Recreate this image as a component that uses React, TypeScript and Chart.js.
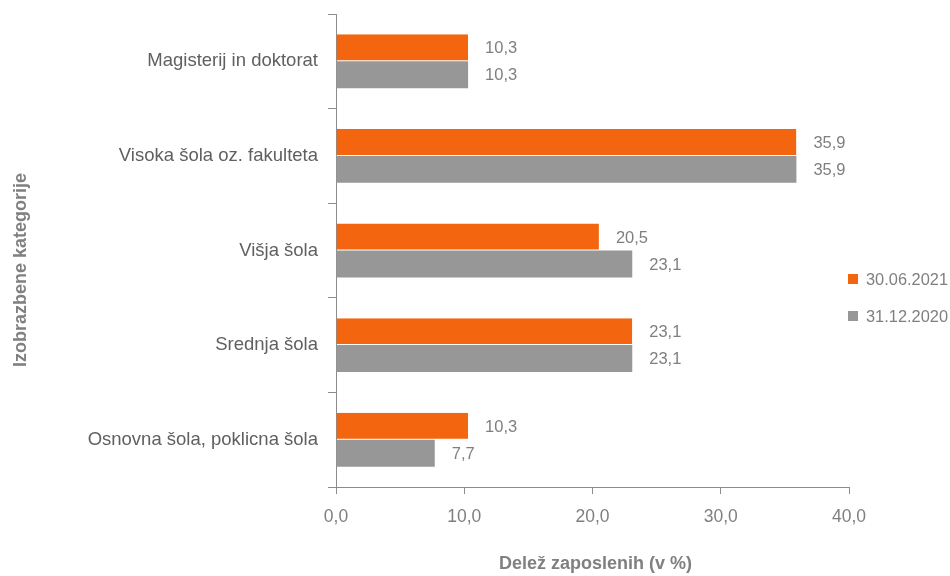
import React, { useEffect, useRef } from "react";
import { Chart, registerables } from "chart.js";

Chart.register(...registerables);

const categories = [
  "Magisterij in doktorat",
  "Visoka šola oz. fakulteta",
  "Višja šola",
  "Srednja šola",
  "Osnovna šola, poklicna šola",
];
const seriesNames = ["30.06.2021", "31.12.2020"];
const values2021 = [10.3, 35.9, 20.5, 23.1, 10.3];
const values2020 = [10.3, 35.9, 23.1, 23.1, 7.7];
const colors = ["#F4650F", "#979797"];
const xTitle = "Delež zaposlenih (v %)";
const yTitle = "Izobrazbene kategorije";

const FONT = "'Liberation Sans', Arial, sans-serif";
const fmt = (v: number) => v.toFixed(1).replace(".", ",");

const extrasPlugin = {
  id: "extras",
  afterDatasetsDraw(chart: any) {
    const ctx = chart.ctx;
    ctx.save();
    // data labels
    ctx.font = `16.5px ${FONT}`;
    ctx.fillStyle = "#7f7f7f";
    ctx.textAlign = "left";
    ctx.textBaseline = "middle";
    chart.data.datasets.forEach((ds: any, di: number) => {
      const meta = chart.getDatasetMeta(di);
      meta.data.forEach((bar: any, i: number) => {
        ctx.fillText(fmt(ds.data[i]), bar.x + 17, bar.y + 1);
      });
    });
    // titles
    ctx.font = `bold 18px ${FONT}`;
    ctx.fillStyle = "#808080";
    ctx.textAlign = "center";
    ctx.fillText(xTitle, (chart.chartArea.left + chart.chartArea.right) / 2 + 3, 564);
    ctx.save();
    ctx.translate(21, 270);
    ctx.rotate(-Math.PI / 2);
    ctx.fillText(yTitle, 0, 0);
    ctx.restore();
    // legend
    ctx.font = `16.4px ${FONT}`;
    ctx.textAlign = "left";
    seriesNames.forEach((name, i) => {
      const y = 279 + i * 37;
      ctx.fillStyle = colors[i];
      ctx.fillRect(848, y - 5, 10, 10);
      ctx.fillStyle = "#7f7f7f";
      ctx.fillText(name, 866, y + 1);
    });
    ctx.restore();
  },
};

export default function App() {
  const ref = useRef<HTMLCanvasElement>(null);
  useEffect(() => {
    const chart = new Chart(ref.current!, {
      type: "bar",
      data: {
        labels: categories,
        datasets: [
          { label: seriesNames[0], data: values2021, backgroundColor: colors[0], borderColor: "rgba(255,255,255,0.35)", borderWidth: { bottom: 1 }, categoryPercentage: 0.57, barPercentage: 1 },
          { label: seriesNames[1], data: values2020, backgroundColor: colors[1], categoryPercentage: 0.57, barPercentage: 1 },
        ],
      },
      options: {
        indexAxis: "y",
        responsive: false,
        animation: false,
        layout: { padding: { top: 14, right: 101, left: 0, bottom: 0 } },
        plugins: { legend: { display: false }, tooltip: { enabled: false } },
        scales: {
          x: {
            min: 0,
            max: 40,
            ticks: {
              stepSize: 10,
              color: "#7f7f7f",
              font: { family: FONT, size: 17.5 },
              padding: 13,
              callback: (v: any) => fmt(Number(v)),
            },
            grid: { drawOnChartArea: false, color: "#8c8c8c", tickLength: 7 },
            border: { color: "#8c8c8c" },
            afterFit: (s: any) => { s.height = 89; s.paddingLeft = 0; s.paddingRight = 0; },
          },
          y: {
            ticks: { color: "#606060", font: { family: FONT, size: 18.5 }, padding: 10 },
            grid: { drawOnChartArea: false, color: "#8c8c8c", tickLength: 8, offset: true },
            border: { color: "#8c8c8c" },
            afterFit: (s: any) => { s.width = 336; s.paddingTop = 0; s.paddingBottom = 0; },
          },
        },
      },
      plugins: [extrasPlugin],
    } as any);
    return () => chart.destroy();
  }, []);
  return (
    <div style={{ position: "fixed", left: 0, top: 0, width: 950, height: 576, background: "#fff" }}>
      <canvas ref={ref} width={950} height={576} />
    </div>
  );
}
